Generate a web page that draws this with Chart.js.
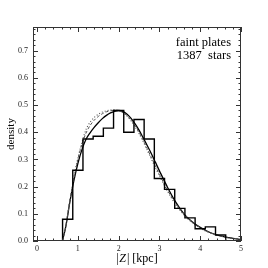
<!DOCTYPE html>
<html>
<head>
<meta charset="utf-8">
<script src="https://cdn.jsdelivr.net/npm/chart.js@4/dist/chart.umd.min.js"></script>
<style>
html,body{margin:0;padding:0;background:#fff;}
#wrap{width:268px;height:268px;}
</style>
</head>
<body>
<div id="wrap"><canvas id="c" width="268" height="268"></canvas></div>
<script>
// Histogram bins (|Z| in kpc) and densities
const binEdges = [0.625, 0.875, 1.125, 1.375, 1.625, 1.875, 2.125, 2.375, 2.625, 2.875, 3.125, 3.375, 3.625, 3.875, 4.125, 4.375, 4.625];
const binHeights = [0.08, 0.26, 0.375, 0.385, 0.415, 0.48, 0.40, 0.447, 0.375, 0.23, 0.19, 0.12, 0.085, 0.045, 0.052, 0.022];

// Model curves
const modelX = [0.62, 0.7, 0.8, 0.9, 1.0, 1.1, 1.2, 1.3, 1.4, 1.5, 1.6, 1.7, 1.8, 1.9, 2.0, 2.1, 2.2, 2.3, 2.4, 2.5, 2.6, 2.7, 2.8, 2.9, 3.0, 3.2, 3.4, 3.6, 3.8, 4.0, 4.2, 4.4, 4.6, 4.8, 5.0];
const solidY  = [0, 0.05, 0.14, 0.22, 0.285, 0.336, 0.374, 0.398, 0.418, 0.435, 0.45, 0.462, 0.471, 0.477, 0.48, 0.477, 0.467, 0.452, 0.432, 0.408, 0.38, 0.351, 0.322, 0.29, 0.258, 0.197, 0.143, 0.1, 0.071, 0.05, 0.034, 0.023, 0.015, 0.01, 0.005];
const dashedY = [0, 0.05, 0.145, 0.228, 0.3, 0.355, 0.397, 0.425, 0.444, 0.458, 0.468, 0.475, 0.479, 0.481, 0.479, 0.473, 0.462, 0.446, 0.425, 0.4, 0.371, 0.34, 0.308, 0.276, 0.245, 0.187, 0.138, 0.099, 0.07, 0.049, 0.033, 0.022, 0.015, 0.01, 0.006];
const dottedY = [0, 0.05, 0.145, 0.232, 0.305, 0.362, 0.41, 0.437, 0.454, 0.466, 0.474, 0.479, 0.482, 0.483, 0.48, 0.472, 0.46, 0.443, 0.421, 0.395, 0.366, 0.334, 0.302, 0.27, 0.24, 0.182, 0.134, 0.096, 0.068, 0.047, 0.032, 0.022, 0.014, 0.009, 0.005];

// Axis ticks
const xTicks = [0, 1, 2, 3, 4, 5];
const yTicks = [0.0, 0.1, 0.2, 0.3, 0.4, 0.5, 0.6, 0.7];
const xMinorStep = 0.2;
const yMinorStep = 0.02;
const labelLines = ["faint plates", "1387  stars"];

// Build histogram outline
const histPts = [{x: binEdges[0], y: 0}];
for (let i = 0; i < binHeights.length; i++) histPts.push({x: binEdges[i], y: binHeights[i]});
histPts.push({x: binEdges[binEdges.length - 1], y: 0});

const mk = (ys) => modelX.map((x, i) => ({x, y: ys[i]}));

const SERIF = '"Liberation Serif", "DejaVu Serif", serif';

const framePlugin = {
  id: 'frame',
  afterDraw(chart) {
    const {ctx, chartArea: a, scales: {x, y}} = chart;
    ctx.save();
    ctx.strokeStyle = '#333';
    ctx.lineWidth = 1;
    ctx.strokeRect(a.left + 0.5, a.top + 0.5, a.right - a.left - 1, a.bottom - a.top - 1);
    ctx.beginPath();
    for (let v = Math.ceil(x.min / xMinorStep) * xMinorStep; v <= x.max + 1e-9; v += xMinorStep) {
      const px = Math.round(x.getPixelForValue(v)) + 0.5;
      const major = Math.abs(v - Math.round(v)) < 1e-6;
      const len = major ? 5 : 2.5;
      ctx.moveTo(px, a.bottom); ctx.lineTo(px, a.bottom - len);
      ctx.moveTo(px, a.top); ctx.lineTo(px, a.top + len);
    }
    for (let v = 0; v <= y.max + 1e-9; v += yMinorStep) {
      const py = Math.round(y.getPixelForValue(v)) + 0.5;
      const major = Math.abs(v * 10 - Math.round(v * 10)) < 1e-6;
      const len = major ? 5 : 2.5;
      ctx.moveTo(a.left, py); ctx.lineTo(a.left + len, py);
      ctx.moveTo(a.right, py); ctx.lineTo(a.right - len, py);
    }
    ctx.stroke();

    ctx.fillStyle = '#000';
    ctx.font = '12.5px ' + SERIF;
    ctx.textAlign = 'right';
    ctx.textBaseline = 'middle';
    ctx.fillText(labelLines[0], a.right - 10, a.top + 16);
    ctx.fillText(labelLines[1], a.right - 10, a.top + 29);

    ctx.save();
    ctx.translate(11, (a.top + a.bottom) / 2);
    ctx.rotate(-Math.PI / 2);
    ctx.textAlign = 'center';
    ctx.font = '11px ' + SERIF;
    ctx.fillText('density', 0, 0);
    ctx.restore();

    const parts = [['|', '12px ' + SERIF], ['Z', 'italic 12px ' + SERIF], ['|', '12px ' + SERIF], [' [kpc]', '12px ' + SERIF]];
    let total = 0;
    parts.forEach(p => { ctx.font = p[1]; total += ctx.measureText(p[0]).width + (p[0] === 'Z' ? 1.5 : 0); });
    let cx = (a.left + a.right) / 2 - total / 2;
    ctx.textAlign = 'left';
    ctx.textBaseline = 'middle';
    parts.forEach(p => {
      ctx.font = p[1];
      ctx.fillText(p[0], cx + (p[0] === 'Z' ? 0.5 : 0), 259);
      cx += ctx.measureText(p[0]).width + (p[0] === 'Z' ? 1.5 : 0);
    });
    ctx.restore();
  }
};

new Chart(document.getElementById('c'), {
  type: 'scatter',
  data: {
    datasets: [
      {data: histPts, showLine: true, stepped: 'before', borderColor: '#000', borderWidth: 1.4, pointRadius: 0, fill: false},
      {data: mk(dottedY), showLine: true, borderColor: '#555', borderWidth: 1.1, borderDash: [1, 2], pointRadius: 0, tension: 0.3},
      {data: mk(dashedY), showLine: true, borderColor: '#555', borderWidth: 1, borderDash: [3, 2], pointRadius: 0, tension: 0.3},
      {data: mk(solidY), showLine: true, borderColor: '#000', borderWidth: 1.3, pointRadius: 0, tension: 0.3}
    ]
  },
  options: {
    responsive: false,
    animation: false,
    devicePixelRatio: 1,
    layout: {padding: {top: 27, right: 27, left: 0, bottom: 0}},
    plugins: {legend: {display: false}, tooltip: {enabled: false}},
    scales: {
      x: {
        type: 'linear', min: -0.1, max: 5,
        afterBuildTicks: s => { s.ticks = xTicks.map(v => ({value: v})); },
        afterFit: s => { s.height = 27; },
        grid: {display: false, drawTicks: false},
        border: {display: false},
        ticks: {padding: 3, color: '#222', font: {family: SERIF, size: 8}, maxRotation: 0, callback: v => String(v)}
      },
      y: {
        type: 'linear', min: 0, max: 0.787,
        afterBuildTicks: s => { s.ticks = yTicks.map(v => ({value: v})); },
        afterFit: s => { s.width = 33; },
        grid: {display: false, drawTicks: false},
        border: {display: false},
        ticks: {padding: 5, color: '#222', font: {family: SERIF, size: 8}, callback: v => Number(v).toFixed(1)}
      }
    }
  },
  plugins: [framePlugin]
});
</script>
</body>
</html>
